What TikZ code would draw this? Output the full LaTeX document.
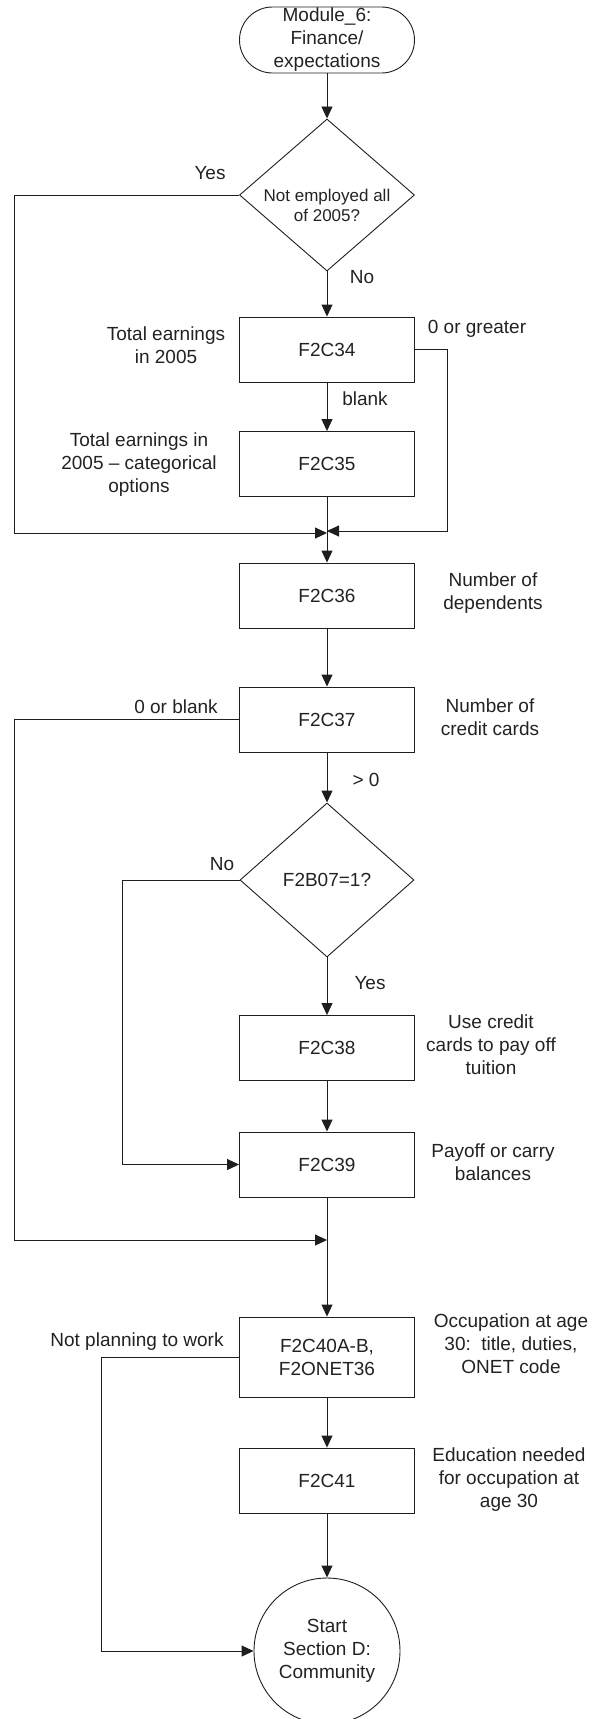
\documentclass[tikz,border=0pt]{standalone}
\usepackage{fontspec}
\setmainfont{Liberation Sans}
\usetikzlibrary{shapes.geometric,arrows.meta}
\definecolor{ink}{HTML}{1E1E1E}
\definecolor{txt}{HTML}{222222}
\begin{document}
\begin{tikzpicture}[x=1pt,y=-1pt,
  every node/.style={font=\fontsize{19}{23}\selectfont, text=txt, inner sep=0pt},
  line/.style={draw=ink, line width=0.9pt},
  arr/.style={line, -{Triangle[length=12pt,width=11pt]}},
  box/.style={draw=ink, line width=0.9pt, minimum width=175pt, minimum height=65pt},
  term/.style={draw=ink, line width=0.9pt, minimum width=175pt, minimum height=66pt, rounded corners=33pt, align=center},
  decision/.style={draw=ink, line width=0.9pt, diamond, minimum width=175pt, minimum height=152pt},
  endc/.style={draw=ink, line width=0.9pt, circle, minimum size=146pt, align=center},
  lbl/.style={align=center}
]
\useasboundingbox (0,0) rectangle (594,1719);

% nodes
\node[term] (start) at (327,40) {Module\_6:\\Finance/\\expectations};
\node[decision] (d1) at (327,195) {};
\node[lbl, font=\fontsize{17}{20}\selectfont] (d1t) at (327,205) {Not employed all\\of 2005?};
\node[box] (b34) at (327,349.5) {F2C34};
\node[box] (b35) at (327,464) {F2C35};
\node[box] (b36) at (327,595.5) {F2C36};
\node[box] (b37) at (327,719.5) {F2C37};
\node[decision, minimum height=154pt, minimum width=174pt] (d2) at (327,880) {F2B07=1?};
\node[box] (b38) at (327,1048) {F2C38};
\node[box] (b39) at (327,1164.5) {F2C39};
\node[box, minimum height=80pt, align=center] (b40) at (327,1357) {F2C40A-B,\\F2ONET36};
\node[box] (b41) at (327,1480.5) {F2C41};
\node[endc] (end) at (327,1651) {Start\\Section D:\\Community};

% labels
\node[lbl] (lyes1) at (210,173) {Yes};
\node[lbl] (lno1) at (362,277) {No};
\node[lbl] (l34) at (166,345) {Total earnings\\in 2005};
\node[lbl] (lgr) at (477,329) {0 or greater};
\node[lbl] (lbl34) at (365,399) {blank};
\node[lbl] (l35) at (139,465) {Total earnings in\\2005 -- categorical\\options};
\node[lbl] (l36) at (493,593) {Number of\\dependents};
\node[lbl] (lob) at (176,707) {0 or blank};
\node[lbl] (l37) at (490,717) {Number of\\credit cards};
\node[lbl] (lgt) at (366,780) {> 0};
\node[lbl] (lno2) at (222,864) {No};
\node[lbl] (lyes2) at (370,983) {Yes};
\node[lbl] (l38) at (491,1045) {Use credit\\cards to pay off\\tuition};
\node[lbl] (l39) at (493,1162) {Payoff or carry\\balances};
\node[lbl] (lnp) at (137,1342) {Not planning to work};
\node[lbl] (l40) at (511,1344) {Occupation at age\\30:~~title, duties,\\ONET code};
\node[lbl] (l41) at (509,1480) {Education needed\\for occupation at\\age 30};

% junction coordinates
\coordinate (j1) at (327,533);
\coordinate (j2) at (327,531);
\coordinate (j3) at (327,1240);

% connectors
\draw[arr] (start) -- (d1);
\draw[arr] (d1) -- (b34);
\draw[arr] (b34) -- (b35);
\draw[arr] (b35) -- (b36);
\draw[arr] (d1.west) -- ++(-225,0) |- (j1);
\draw[arr] (b34.east) -- ++(32,0) |- (j2);
\draw[arr] (b36) -- (b37);
\draw[arr] (b37) -- (d2);
\draw[arr] (b37.west) -- ++(-225,0) |- (j3);
\draw[arr] (d2) -- (b38);
\draw[arr] (d2.west) -- ++(-117,0) |- (b39.west);
\draw[arr] (b38) -- (b39);
\draw[arr] (b39) -- (b40);
\draw[arr] (b40) -- (b41);
\draw[arr] (b41) -- (end);
\draw[arr] (b40.west) -- ++(-138,0) |- (end.west);
\end{tikzpicture}
\end{document}
